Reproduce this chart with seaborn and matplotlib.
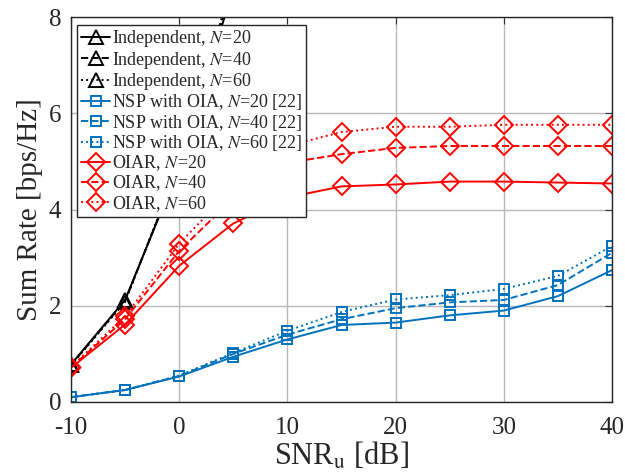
import numpy as np
import pandas as pd
import matplotlib
matplotlib.use("Agg")
import matplotlib.pyplot as plt
import seaborn as sns

# data
snr = [-10, -5, 0, 5, 10, 15, 20, 25, 30, 35, 40]
snr_ind = [-10, -5, 0, 5]

ind_20 = [0.78, 2.12, 4.88, 8.6]
ind_40 = [0.77, 2.10, 4.92, 8.7]
ind_60 = [0.76, 2.08, 4.96, 8.8]

nsp_20 = [0.10, 0.25, 0.53, 0.94, 1.30, 1.60, 1.65, 1.80, 1.90, 2.20, 2.74]
nsp_40 = [0.10, 0.25, 0.54, 1.00, 1.40, 1.72, 1.95, 2.07, 2.12, 2.43, 3.10]
nsp_60 = [0.10, 0.25, 0.55, 1.02, 1.48, 1.87, 2.13, 2.22, 2.35, 2.62, 3.24]

oiar_20 = [0.71, 1.61, 2.83, 3.71, 4.25, 4.48, 4.52, 4.58, 4.58, 4.56, 4.54]
oiar_40 = [0.72, 1.72, 3.14, 4.23, 4.97, 5.15, 5.28, 5.32, 5.32, 5.32, 5.32]
oiar_60 = [0.73, 1.78, 3.29, 4.45, 5.32, 5.61, 5.72, 5.72, 5.76, 5.76, 5.76]

sns.set_style("white")
plt.rcParams['font.family'] = ['Liberation Serif', 'DejaVu Serif']
plt.rcParams['mathtext.fontset'] = 'stix'
plt.rcParams['axes.unicode_minus'] = False

blue = "#0072BD"
red = "#FF0000"

fig = plt.figure(figsize=(6.25, 4.72), dpi=100)
ax = fig.add_axes([71 / 625, 1 - 402 / 472, 541 / 625, 385 / 472])

series = [
    (snr_ind, ind_20, "k", "-", "^", 10, r"Independent, $N$=20"),
    (snr_ind, ind_40, "k", "--", "^", 10, r"Independent, $N$=40"),
    (snr_ind, ind_60, "k", ":", "^", 10, r"Independent, $N$=60"),
    (snr, nsp_20, blue, "-", "s", 7, r"NSP with OIA, $N$=20 [22]"),
    (snr, nsp_40, blue, "--", "s", 7, r"NSP with OIA, $N$=40 [22]"),
    (snr, nsp_60, blue, ":", "s", 7, r"NSP with OIA, $N$=60 [22]"),
    (snr, oiar_20, red, "-", "D", 9, r"OIAR, $N$=20"),
    (snr, oiar_40, red, "--", "D", 9, r"OIAR, $N$=40"),
    (snr, oiar_60, red, ":", "D", 9, r"OIAR, $N$=60"),
]

for x, y, c, ls, mk, ms, lab in series:
    sns.lineplot(x=x, y=y, ax=ax, color=c, linestyle=ls, marker=mk,
                 markersize=ms, markerfacecolor="none", markeredgecolor=c,
                 markeredgewidth=1.4, linewidth=1.4, label=lab)

ax.set_xlim(-10, 40)
ax.set_ylim(0, 8)
ax.set_xticks([-10, 0, 10, 20, 30, 40])
ax.set_yticks([0, 2, 4, 6, 8])
ax.grid(True, color="#b8b8b8", linewidth=1)
ax.tick_params(direction="in", length=5, labelsize=18, top=True, right=True,
               color="#333333")
ax.tick_params(axis="x", pad=11)
ax.tick_params(axis="y", pad=7)
for s in ax.spines.values():
    s.set_color("#262626")
    s.set_linewidth(1)
    s.set_visible(True)

ax.set_xlabel(r"SNR$_\mathrm{u}$ [dB]", fontsize=22, labelpad=1)
ax.set_ylabel("Sum Rate [bps/Hz]", fontsize=21, labelpad=4)

leg = ax.legend(loc="upper left", bbox_to_anchor=(0.012, 0.98), fontsize=13,
                frameon=True, fancybox=False, framealpha=1, edgecolor="#262626",
                handlelength=1.6, handletextpad=0.1, labelspacing=0.02,
                borderpad=0.2, borderaxespad=0)
leg.get_frame().set_linewidth(1)

fig.savefig("out.png", dpi=100)
